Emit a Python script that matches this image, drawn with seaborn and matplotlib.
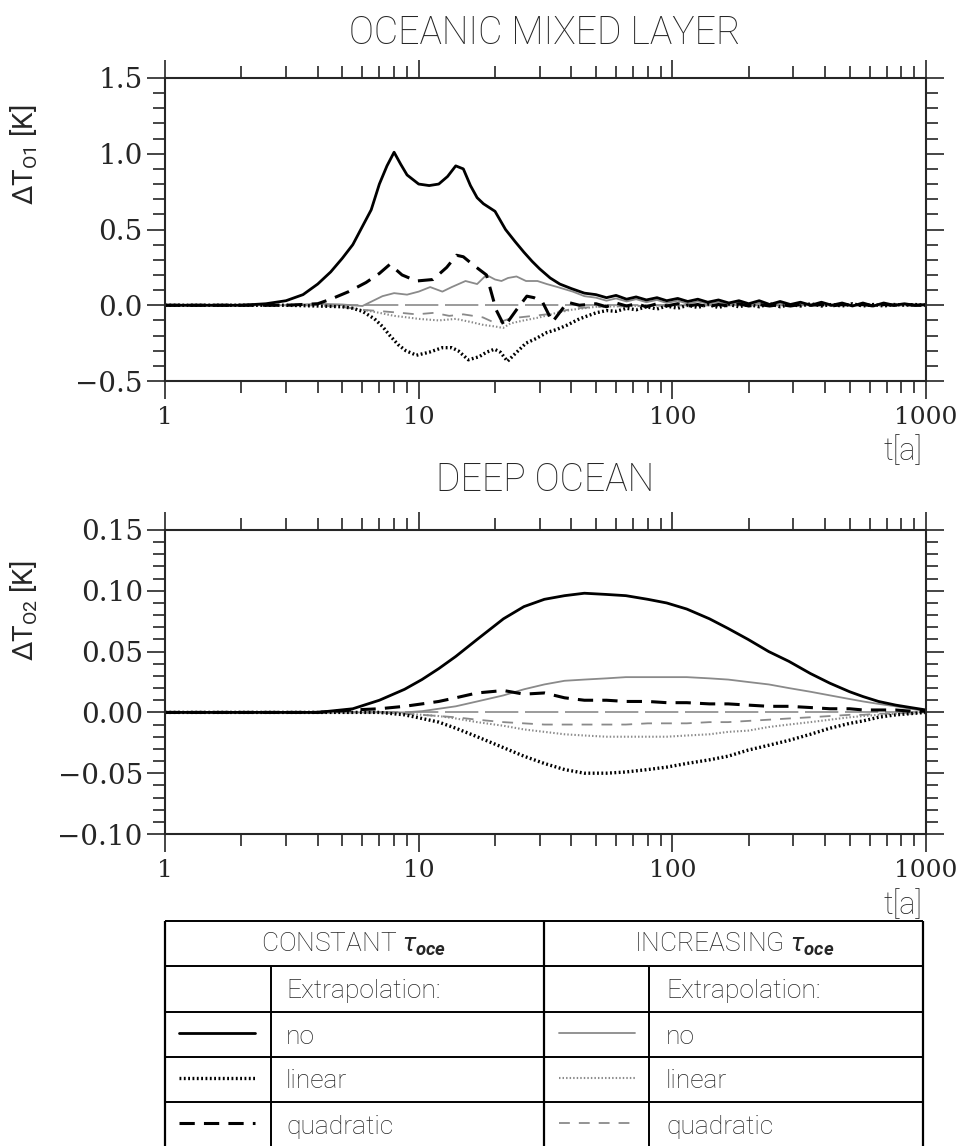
import numpy as np
import pandas as pd
import matplotlib
matplotlib.use("Agg")
import matplotlib.pyplot as plt
import matplotlib.ticker as mticker
import seaborn as sns

# ---- data: oceanic mixed layer (top panel) ----
t_tail = [50, 55, 60, 66, 72, 79, 87, 95, 105, 115, 126, 138, 152, 167, 183, 200, 220,
          242, 266, 292, 320, 352, 387, 425, 467, 513, 564, 620, 681, 748, 822, 903, 1000]

t_ml_const_no = [1, 2, 2.5, 3, 3.5, 4, 4.5, 5, 5.5, 6, 6.5, 7, 7.5, 8, 8.5, 9, 10, 11, 12,
                 13, 14, 15, 16, 17, 18, 20, 22, 24, 26, 28, 30, 33, 36, 40, 45] + t_tail
ml_const_no = [0, 0, 0.01, 0.03, 0.07, 0.14, 0.22, 0.31, 0.40, 0.52, 0.63, 0.80, 0.92, 1.01,
               0.93, 0.86, 0.80, 0.79, 0.80, 0.85, 0.92, 0.90, 0.79, 0.71, 0.67, 0.62, 0.50,
               0.42, 0.35, 0.29, 0.24, 0.18, 0.14, 0.11, 0.08,
               0.07, 0.05, 0.065, 0.04, 0.055, 0.035, 0.05, 0.03, 0.045, 0.025, 0.04, 0.02,
               0.035, 0.015, 0.03, 0.01, 0.03, 0.005, 0.025, 0.005, 0.02, 0.0, 0.02, 0.0,
               0.015, -0.005, 0.015, -0.005, 0.015, 0.0, 0.01, 0.0, 0.005]

t_ml_const_lin = [1, 3, 4, 5, 5.5, 6, 6.7, 7.2, 7.7, 8.3, 8.9, 9.8, 11, 12.4, 13.5, 14.3,
                  15.7, 17.3, 18.5, 19.9, 21, 22.4, 24, 26.5, 29, 32, 35, 38.6, 43] + t_tail
ml_const_lin = [0, 0, -0.005, -0.01, -0.02, -0.04, -0.09, -0.14, -0.20, -0.26, -0.30, -0.33,
                -0.31, -0.28, -0.28, -0.30, -0.36, -0.34, -0.31, -0.29, -0.31, -0.37, -0.32,
                -0.25, -0.22, -0.18, -0.16, -0.13, -0.09,
                -0.05, -0.035, -0.04, -0.02, -0.03, -0.01, -0.025, -0.005, -0.02, 0.0,
                -0.015, 0.005, -0.015, 0.005, -0.01, 0.005, -0.01, 0.01, -0.01, 0.005,
                -0.005, 0.01, -0.005, 0.005, -0.005, 0.01, -0.005, 0.005, -0.005, 0.005,
                0.0, 0.005, 0.0]

t_ml_const_quad = [1, 3, 4, 4.5, 5.3, 6.2, 7, 7.7, 8.6, 9.8, 11.4, 12.9, 14.1, 15, 16.3,
                   18.5, 20.2, 21.8, 24.3, 26.7, 28.5, 30.8, 33.7, 38.6, 43] + t_tail
ml_const_quad = [0, 0, 0.01, 0.04, 0.09, 0.15, 0.21, 0.27, 0.20, 0.16, 0.17, 0.25, 0.33,
                 0.32, 0.27, 0.20, -0.03, -0.14, -0.03, 0.06, 0.05, 0.02, -0.11, 0.02, 0.0,
                 0.01, -0.01, 0.015, -0.005, 0.01, -0.01, 0.01, -0.005, 0.01, -0.005, 0.005,
                 -0.01, 0.005, -0.005, 0.01, -0.005, 0.005, -0.005, 0.005, -0.005, 0.005,
                 0.0, 0.005, -0.005, 0.005, 0.0, 0.005, -0.005, 0.005, 0.0, 0.005, 0.0, 0.0]

t_ml_incr_no = [1, 3, 4, 5, 6, 7.2, 8, 9, 10, 11.1, 12.4, 13.5, 15.3, 17, 18.5, 20, 21.2,
                22.5, 24.3, 26.5, 29.4, 32, 35.3, 40.5, 45] + t_tail
ml_incr_no = [0, 0, 0.01, 0.005, -0.005, 0.06, 0.08, 0.07, 0.09, 0.12, 0.09, 0.12, 0.16,
              0.14, 0.20, 0.17, 0.16, 0.18, 0.19, 0.16, 0.16, 0.14, 0.12, 0.09, 0.06,
              0.05, 0.03, 0.045, 0.025, 0.04, 0.02, 0.035, 0.015, 0.03, 0.01, 0.025, 0.01,
              0.02, 0.005, 0.02, 0.005, 0.015, 0.0, 0.015, 0.0, 0.01, 0.0, 0.01, -0.005,
              0.01, 0.0, 0.005, 0.0, 0.005, 0.0, 0.005, 0.0, 0.0]

t_ml_incr_lin = [1, 4, 5, 6, 7, 8, 9, 10, 12, 14, 16, 18, 20, 21.5, 23, 26, 30, 35, 40, 50,
                 70, 100, 200, 1000]
ml_incr_lin = [0, 0, -0.01, -0.03, -0.05, -0.07, -0.08, -0.09, -0.10, -0.09, -0.11, -0.13,
               -0.14, -0.15, -0.12, -0.10, -0.08, -0.05, -0.03, -0.01, -0.005, 0.0, 0.0, 0.0]

t_ml_incr_quad = [1, 4, 5, 6, 7.2, 8.5, 9.8, 11.5, 13.2, 15, 17.9, 20.2, 22.7, 25, 28.3, 32,
                  36, 42, 50, 70, 100, 200, 1000]
ml_incr_quad = [0, 0, -0.01, -0.03, -0.04, -0.05, -0.06, -0.05, -0.07, -0.06, -0.08, -0.12,
                -0.09, -0.08, -0.07, -0.06, -0.04, -0.02, -0.01, -0.005, 0.0, 0.0, 0.0]

# ---- data: deep ocean (bottom panel) ----
t_do = [1, 3, 4, 5.5, 7, 8.8, 10.3, 12, 14, 17, 21.6, 26, 31.3, 37.6, 45, 55, 65.6, 80, 95,
        114, 140, 166, 199, 240, 288, 350, 418, 500, 565, 650, 760, 870, 1000]
do_const_no = [0, 0, 0, 0.003, 0.010, 0.019, 0.027, 0.036, 0.046, 0.060, 0.077, 0.087, 0.093,
               0.096, 0.098, 0.097, 0.096, 0.093, 0.090, 0.085, 0.077, 0.069, 0.060, 0.050,
               0.042, 0.032, 0.024, 0.017, 0.013, 0.009, 0.006, 0.004, 0.002]
do_const_lin = [0, 0, 0, 0, 0, -0.002, -0.005, -0.008, -0.013, -0.020, -0.029, -0.036,
                -0.042, -0.047, -0.050, -0.050, -0.049, -0.047, -0.045, -0.042, -0.039,
                -0.036, -0.031, -0.027, -0.023, -0.018, -0.013, -0.009, -0.007, -0.004,
                -0.002, -0.001, 0.0]
do_const_quad = [0, 0, 0, 0.002, 0.003, 0.005, 0.007, 0.009, 0.012, 0.016, 0.018, 0.015,
                 0.016, 0.012, 0.010, 0.010, 0.009, 0.009, 0.008, 0.008, 0.007, 0.007, 0.006,
                 0.005, 0.005, 0.004, 0.003, 0.003, 0.002, 0.002, 0.002, 0.001, 0.001]
do_incr_no = [0, 0, 0, 0, 0, 0, 0.001, 0.003, 0.005, 0.009, 0.014, 0.019, 0.023, 0.026,
              0.027, 0.028, 0.029, 0.029, 0.029, 0.029, 0.028, 0.027, 0.025, 0.023, 0.020,
              0.017, 0.014, 0.011, 0.009, 0.007, 0.005, 0.003, 0.001]
do_incr_lin = [0, 0, 0, 0, 0, -0.001, -0.002, -0.003, -0.005, -0.008, -0.011, -0.014,
               -0.016, -0.018, -0.019, -0.020, -0.020, -0.020, -0.020, -0.019, -0.018,
               -0.016, -0.015, -0.012, -0.010, -0.008, -0.006, -0.004, -0.003, -0.002,
               -0.001, -0.001, 0.0]
do_incr_quad = [0, 0, 0, 0, 0, -0.001, -0.002, -0.003, -0.004, -0.006, -0.008, -0.009,
                -0.010, -0.010, -0.010, -0.010, -0.010, -0.009, -0.009, -0.009, -0.008,
                -0.008, -0.007, -0.006, -0.005, -0.004, -0.003, -0.002, -0.002, -0.001,
                -0.001, 0.0, 0.0]

x_ticks = [1, 10, 100, 1000]
x_ticklabels = ["1", "10", "100", "1000"]
row_labels = ["no", "linear", "quadratic"]

# ---- styles ----
GRAY = "#8a8a8a"
styles = {
    "const_no": dict(color="black", linewidth=2.0, linestyle="-"),
    "const_lin": dict(color="black", linewidth=2.4, linestyle=(0, (0.55, 0.75))),
    "const_quad": dict(color="black", linewidth=2.2, linestyle=(0, (5, 3))),
    "incr_no": dict(color=GRAY, linewidth=1.3, linestyle="-"),
    "incr_lin": dict(color=GRAY, linewidth=1.5, linestyle=(0, (0.7, 1.0))),
    "incr_quad": dict(color=GRAY, linewidth=1.3, linestyle=(0, (6, 5))),
}

sns.set_style("ticks")
TEXT_FONT = ["Roboto", "DejaVu Sans"]
plt.rcParams["font.family"] = TEXT_FONT
plt.rcParams["mathtext.fontset"] = "custom"
plt.rcParams["mathtext.rm"] = "Roboto"
plt.rcParams["mathtext.it"] = "Roboto:italic"
plt.rcParams["mathtext.bf"] = "Roboto:italic:bold"
TICK_FONT = "DejaVu Serif"
TW = "light"

W, H = 964, 1146
fig = plt.figure(figsize=(W / 100, H / 100), dpi=100)


def box(l, t, r, b):
    return [l / W, 1 - b / H, (r - l) / W, (b - t) / H]


ax1 = fig.add_axes(box(165, 78, 926, 381))
ax2 = fig.add_axes(box(165, 530, 926, 834))

top_series = [
    ("incr_no", t_ml_incr_no, ml_incr_no),
    ("incr_lin", t_ml_incr_lin, ml_incr_lin),
    ("incr_quad", t_ml_incr_quad, ml_incr_quad),
    ("const_no", t_ml_const_no, ml_const_no),
    ("const_lin", t_ml_const_lin, ml_const_lin),
    ("const_quad", t_ml_const_quad, ml_const_quad),
]
bottom_series = [
    ("incr_no", t_do, do_incr_no),
    ("incr_lin", t_do, do_incr_lin),
    ("incr_quad", t_do, do_incr_quad),
    ("const_no", t_do, do_const_no),
    ("const_lin", t_do, do_const_lin),
    ("const_quad", t_do, do_const_quad),
]

for ax, series in [(ax1, top_series), (ax2, bottom_series)]:
    ax.axhline(0, color=GRAY, linewidth=1.2, linestyle=(0, (20, 4)), zorder=1)
    for key, tt, vv in series:
        sns.lineplot(x=tt, y=vv, ax=ax, sort=False, estimator=None, **styles[key])

    ax.set_xscale("log")
    ax.set_xlim(1, 1000)
    ax.set_xticks(x_ticks)
    ax.set_xticklabels(x_ticklabels)
    ax.xaxis.set_minor_locator(mticker.LogLocator(base=10, subs=np.arange(2, 10), numticks=20))
    ax.xaxis.set_minor_formatter(mticker.NullFormatter())
    ax.set_xlabel("")
    ax.set_ylabel("")
    for s in ax.spines.values():
        s.set_linewidth(1.5)
    ax.tick_params(which="both", direction="out", top=True, right=True, width=1.2)
    ax.tick_params(which="major", length=13)
    ax.tick_params(which="minor", length=8.5)
    ax.tick_params(axis="x", labelsize=18, pad=5, labelfontfamily=TICK_FONT)
    ax.tick_params(axis="y", labelsize=20, pad=3, labelfontfamily=TICK_FONT)

ax1.set_ylim(-0.5, 1.5)
ax1.yaxis.set_major_locator(mticker.MultipleLocator(0.5))
ax1.yaxis.set_minor_locator(mticker.MultipleLocator(0.1))
ax1.yaxis.set_major_formatter(mticker.FuncFormatter(lambda v, p: f"{v:.1f}".replace("-", "\u2212")))

ax2.set_ylim(-0.10, 0.15)
ax2.yaxis.set_major_locator(mticker.MultipleLocator(0.05))
ax2.yaxis.set_minor_locator(mticker.MultipleLocator(0.01))
ax2.yaxis.set_major_formatter(mticker.FuncFormatter(
    lambda v, p: ("%.2f" % (0.0 if abs(v) < 1e-9 else v)).replace("-", "\u2212")))

# titles and axis labels
fig.text(545 / W, 1 - 33 / H, "OCEANIC MIXED LAYER", ha="center", va="center",
         fontsize=27, fontweight=TW)
fig.text(545 / W, 1 - 480 / H, "DEEP OCEAN", ha="center", va="center",
         fontsize=27, fontweight=TW)
fig.text(24 / W, 1 - 155 / H, r"$\Delta$T$_{\rm O1}$ [K]", rotation=90, ha="center",
         va="center", fontsize=20)
fig.text(24 / W, 1 - 611 / H, r"$\Delta$T$_{\rm O2}$ [K]", rotation=90, ha="center",
         va="center", fontsize=20)
fig.text(922 / W, 1 - 451 / H, "t[a]", ha="right", va="center", fontsize=22, fontweight=TW)
fig.text(922 / W, 1 - 905 / H, "t[a]", ha="right", va="center", fontsize=22, fontweight=TW)

# ---- legend table ----
tab = fig.add_axes([0, 0, 1, 1], zorder=-1)
tab.set_xlim(0, W)
tab.set_ylim(H, 0)
tab.axis("off")
row_y = [921, 966, 1012, 1057, 1102, 1148]
tab.hlines(row_y, 165, 923, color="black", linewidth=1.4)
tab.vlines([165, 544, 923], 921, 1148, color="black", linewidth=1.6)
tab.vlines([271, 649], 966, 1148, color="black", linewidth=1.4)

tab.text(354, 944, r"CONSTANT $\it{\tau}_{\mathbf{oce}}$", ha="center", va="center",
         fontsize=19, fontweight=TW)
tab.text(734, 944, r"INCREASING $\it{\tau}_{\mathbf{oce}}$", ha="center", va="center",
         fontsize=19, fontweight=TW)
for x0 in [286, 666]:
    tab.text(x0, 991, "Extrapolation:", ha="left", va="center", fontsize=19, fontweight=TW)

left_keys = ["const_no", "const_lin", "const_quad"]
right_keys = ["incr_no", "incr_lin", "incr_quad"]
for i, lab in enumerate(row_labels):
    yc = (row_y[i + 2] + row_y[i + 3]) / 2
    tab.plot([179, 255], [yc - 2, yc - 2], **styles[left_keys[i]])
    tab.plot([559, 635], [yc - 2, yc - 2], **styles[right_keys[i]])
    tab.text(286, yc + 2, lab, ha="left", va="center", fontsize=19, fontweight=TW)
    tab.text(666, yc + 2, lab, ha="left", va="center", fontsize=19, fontweight=TW)

fig.savefig("out.png", dpi=100)
